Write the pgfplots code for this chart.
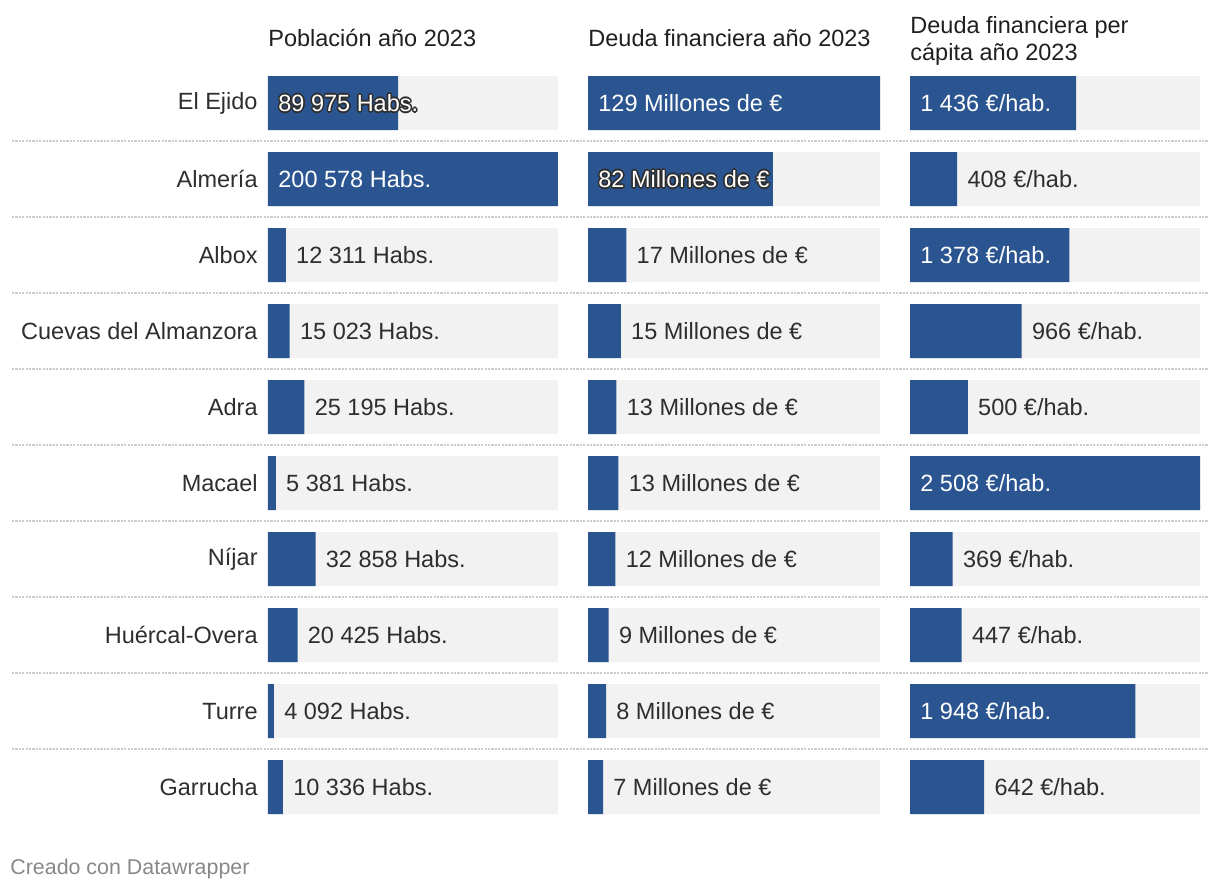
\documentclass[border=0pt]{standalone}
\usepackage{pgfplots}
\pgfplotsset{compat=1.18}
\usepackage{fontspec}
\setmainfont{Liberation Sans}
\definecolor{barblue}{HTML}{2B5591}
\definecolor{bggray}{HTML}{F2F2F2}
\definecolor{txt}{HTML}{2E2E2E}
\definecolor{head}{HTML}{1F1F1F}
\definecolor{sepc}{HTML}{CCCCCC}
\definecolor{foot}{HTML}{888888}
\newcommand{\msize}{\fontsize{11.75}{14}\selectfont}
\newcommand{\hcp}[3]{\makebox[0pt][l]{\color{txt}\kern#1\raisebox{#2}{#3}}}
\newcommand{\halo}[1]{%
  \hcp{0.8pt}{0pt}{#1}\hcp{-0.8pt}{0pt}{#1}%
  \hcp{0pt}{0.8pt}{#1}\hcp{0pt}{-0.8pt}{#1}%
  \hcp{0.6pt}{0.6pt}{#1}\hcp{-0.6pt}{0.6pt}{#1}%
  \hcp{0.6pt}{-0.6pt}{#1}\hcp{-0.6pt}{-0.6pt}{#1}%
  {\color{white}#1}}
\pgfplotsset{
  rowaxis/.style={
    scale only axis, height=380pt, anchor=north west,
    xmin=0, ymin=-0.5, ymax=9.5, y dir=reverse,
    enlargelimits=false, clip=false,
    xtick=\empty,
    /pgf/number format/1000 sep={\ },
    /pgf/number format/fixed,
    /pgf/number format/precision=0,
    /pgf/number format/assume math mode=true,
  },
  bg/.style={xbar, bar shift=0pt, bar width=27pt, fill=bggray, draw=none},
  fg/.style={xbar, bar shift=0pt, bar width=27pt, fill=barblue, draw=none},
  lab/.style={xbar, bar shift=0pt, bar width=27pt, fill=none, draw=none,
    nodes near coords style={anchor=west, inner sep=0pt, xshift=5pt, font=\msize, text=#1}},
}
\begin{document}
\begin{tikzpicture}
\path[use as bounding box] (0pt,0pt) rectangle (610pt,-445pt);
% separators
\foreach \yy in {141,217,293,369,445,521,597,673,749}{
  \draw[sepc, line width=1pt, dash pattern=on 1.1pt off 0.6pt] (6pt,-\yy*0.5pt) -- (604pt,-\yy*0.5pt);
}
% titles
\node[anchor=west, inner sep=0pt, font=\msize, text=head] at (134pt,-19pt) {Población año 2023};
\node[anchor=west, inner sep=0pt, font=\msize, text=head] at (294pt,-19pt) {Deuda financiera año 2023};
\node[anchor=west, inner sep=0pt, font=\msize, text=head, align=left] at (455pt,-20.5pt) {Deuda financiera per\\[-0.3pt]cápita año 2023};
\node[anchor=west, inner sep=0pt, font=\fontsize{10.7}{13}\selectfont, text=foot] at (5pt,-434.5pt) {Creado con Datawrapper};

% Column 1: population
\begin{axis}[rowaxis, at={(134pt,-32.5pt)}, width=145pt, xmax=200578,
  hide x axis, axis y line*=left, y axis line style={draw=none},
  major tick length=0pt,
  ytick={0,...,9},
  yticklabels={El Ejido, Almería, Albox, Cuevas del Almanzora, Adra, Macael, Níjar, Huércal-Overa, Turre, Garrucha},
  yticklabel style={font=\msize, text=txt, inner sep=0pt, xshift=-5pt},
]
\addplot[bg] coordinates {(200578,0) (200578,1) (200578,2) (200578,3) (200578,4) (200578,5) (200578,6) (200578,7) (200578,8) (200578,9)};
\addplot[fg] coordinates {(89975,0) (200578,1) (12311,2) (15023,3) (25195,4) (5381,5) (32858,6) (20425,7) (4092,8) (10336,9)};
\addplot[lab=txt, point meta=x, nodes near coords={\pgfmathprintnumber{\pgfplotspointmeta}~Habs.}]
  coordinates {(12311,2) (15023,3) (25195,4) (5381,5) (32858,6) (20425,7) (4092,8) (10336,9)};
\addplot[lab=white, point meta=explicit, nodes near coords={\pgfmathprintnumber{\pgfplotspointmeta}~Habs.}]
  coordinates {(0,1) [200578]};
\addplot[lab=white, point meta=explicit, nodes near coords={\halo{\pgfmathprintnumber{\pgfplotspointmeta}~Habs.}}]
  coordinates {(0,0) [89975]};
\end{axis}

% Column 2: debt (millions)
\begin{axis}[rowaxis, at={(294pt,-32.5pt)}, width=146pt, xmax=129.2, hide axis]
\addplot[bg] coordinates {(129.2,0) (129.2,1) (129.2,2) (129.2,3) (129.2,4) (129.2,5) (129.2,6) (129.2,7) (129.2,8) (129.2,9)};
\addplot[fg] coordinates {(129.2,0) (81.8,1) (16.96,2) (14.51,3) (12.6,4) (13.49,5) (12.12,6) (9.13,7) (7.97,8) (6.64,9)};
\addplot[lab=txt, point meta=x, nodes near coords={\pgfmathprintnumber{\pgfplotspointmeta}~Millones de €}]
  coordinates {(16.96,2) (14.51,3) (12.6,4) (13.49,5) (12.12,6) (9.13,7) (7.97,8) (6.64,9)};
\addplot[lab=white, point meta=explicit, nodes near coords={\pgfmathprintnumber{\pgfplotspointmeta}~Millones de €}]
  coordinates {(0,0) [129.2]};
\addplot[lab=white, point meta=explicit, nodes near coords={\halo{\pgfmathprintnumber{\pgfplotspointmeta}~Millones de €}}]
  coordinates {(0,1) [81.8]};
\end{axis}

% Column 3: debt per capita
\begin{axis}[rowaxis, at={(455pt,-32.5pt)}, width=145pt, xmax=2508, hide axis]
\addplot[bg] coordinates {(2508,0) (2508,1) (2508,2) (2508,3) (2508,4) (2508,5) (2508,6) (2508,7) (2508,8) (2508,9)};
\addplot[fg] coordinates {(1436,0) (408,1) (1378,2) (966,3) (500,4) (2508,5) (369,6) (447,7) (1948,8) (642,9)};
\addplot[lab=txt, point meta=x, nodes near coords={\pgfmathprintnumber{\pgfplotspointmeta}~€/hab.}]
  coordinates {(408,1) (966,3) (500,4) (369,6) (447,7) (642,9)};
\addplot[lab=white, point meta=explicit, nodes near coords={\pgfmathprintnumber{\pgfplotspointmeta}~€/hab.}]
  coordinates {(0,0) [1436] (0,2) [1378] (0,5) [2508] (0,8) [1948]};
\end{axis}
\end{tikzpicture}
\end{document}
